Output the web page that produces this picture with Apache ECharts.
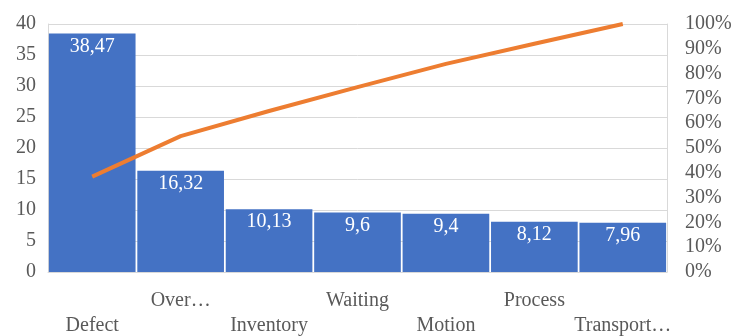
<!DOCTYPE html>
<html>
<head>
<meta charset="utf-8">
<script src="https://cdn.jsdelivr.net/npm/echarts@6/dist/echarts.min.js"></script>
<style>
  html, body { margin: 0; padding: 0; background: #fff; }
  #chart { width: 736px; height: 336px; }
</style>
</head>
<body>
<div id="chart"></div>
<script>
  // Pareto of waste types
  var categories = ['Defect', 'Over…', 'Inventory', 'Waiting', 'Motion', 'Process', 'Transport…'];
  var wasteValues = [38.47, 16.32, 10.13, 9.6, 9.4, 8.12, 7.96];
  var cumulativePct = [38.47, 54.79, 64.92, 74.52, 83.92, 92.04, 100];
  var leftTicks = [0, 5, 10, 15, 20, 25, 30, 35, 40];
  var rightTicks = [0, 10, 20, 30, 40, 50, 60, 70, 80, 90, 100];

  var font = '"Liberation Serif", "Times New Roman", serif';
  var gray = '#595959';
  var gridGray = '#d9d9d9';

  var chart = echarts.init(document.getElementById('chart'));
  var option = {
    backgroundColor: '#fff',
    animation: false,
    grid: { left: 48, right: 69, top: 24, bottom: 64, outerBoundsMode: 'none' },
    xAxis: {
      type: 'category',
      data: categories,
      axisLine: { show: true, lineStyle: { color: gridGray } },
      axisTick: { show: false },
      axisLabel: {
        interval: 0,
        color: gray,
        fontFamily: font,
        fontSize: 20,
        lineHeight: 25,
        margin: 16,
        formatter: function(v, i) { return i % 2 === 0 ? '\n' + v : v; }
      }
    },
    yAxis: [
      {
        type: 'value',
        min: leftTicks[0],
        max: leftTicks[leftTicks.length - 1],
        interval: 5,
        axisLine: { show: true, lineStyle: { color: gridGray } },
        axisTick: { show: false },
        splitLine: { lineStyle: { color: gridGray, width: 1 } },
        axisLabel: { color: gray, fontFamily: font, fontSize: 20, margin: 12 }
      },
      {
        type: 'value',
        min: rightTicks[0],
        max: rightTicks[rightTicks.length - 1],
        interval: 10,
        axisLine: { show: true, lineStyle: { color: gridGray } },
        axisTick: { show: false },
        splitLine: { show: false },
        axisLabel: {
          color: gray, fontFamily: font, fontSize: 20, margin: 18,
          formatter: '{value}%'
        }
      }
    ],
    series: [
      {
        type: 'bar',
        data: wasteValues,
        barCategoryGap: '2%',
        itemStyle: { color: '#4472C4' },
        label: {
          show: true,
          position: 'insideTop',
          distance: 3,
          color: '#fff',
          fontFamily: font,
          fontSize: 20,
          formatter: function(p) { return String(p.value).replace('.', ','); }
        }
      },
      {
        type: 'line',
        yAxisIndex: 1,
        data: cumulativePct,
        symbol: 'none',
        lineStyle: { color: '#ED7D31', width: 4 },
        itemStyle: { color: '#ED7D31' }
      }
    ]
  };
  chart.setOption(option);
</script>
</body>
</html>
